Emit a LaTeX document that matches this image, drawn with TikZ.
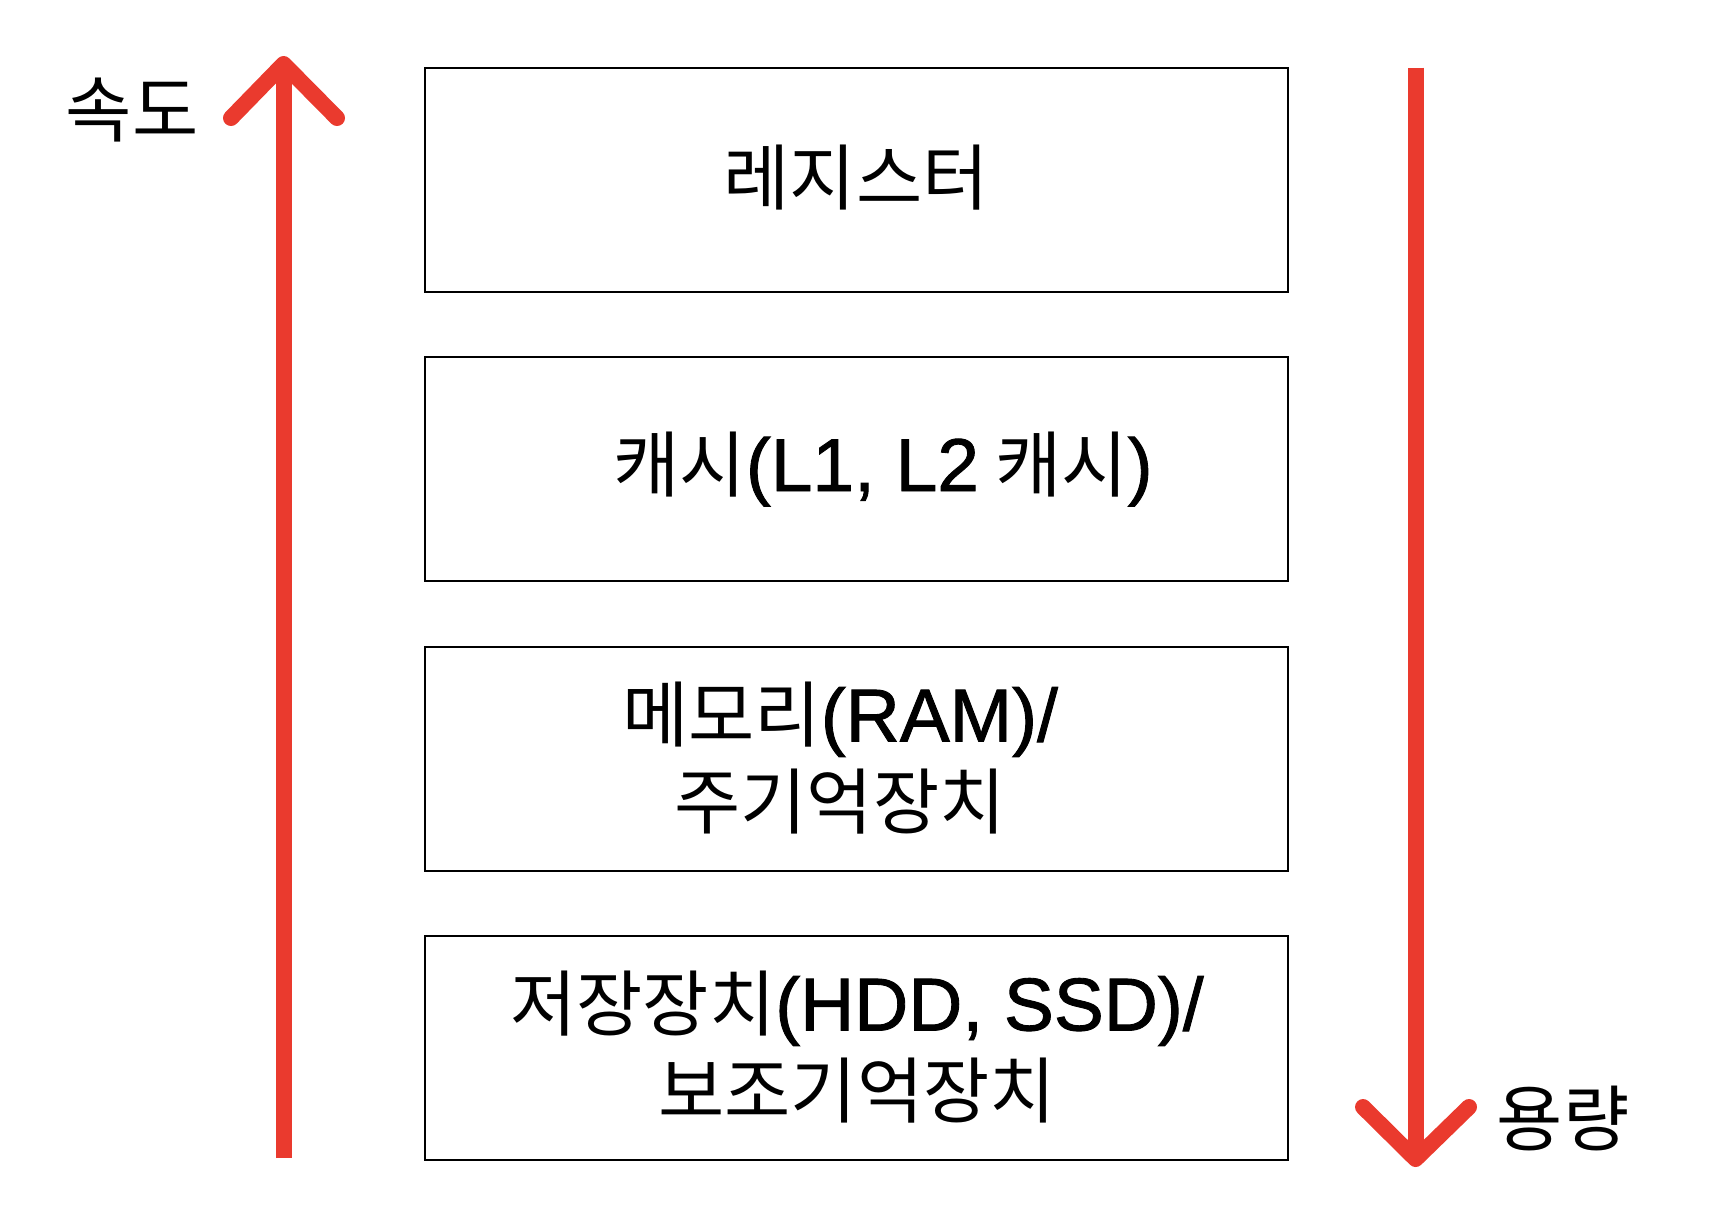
\documentclass[tikz,border=0pt]{standalone}
\usepackage{fontspec}
\setmainfont{Noto Sans CJK KR}
\newfontfamily\latfont[Scale=1.04,FakeBold=1.2]{Liberation Sans}
\newcommand{\lt}[1]{{\latfont #1}}
\definecolor{arrowred}{RGB}{234,58,46}
\begin{document}
\begin{tikzpicture}[x=1pt,y=-1pt,
  layerbox/.style={draw=black, line width=2.2pt, minimum width=863pt, minimum height=224.5pt, inner sep=0pt, anchor=center},
  lbl/.style={font=\fontsize{72}{87}\selectfont, align=center, inner sep=0pt, anchor=center},
  shaft/.style={draw=arrowred, line width=16pt, line cap=butt},
  head/.style={draw=arrowred, line width=16pt, line cap=round, line join=round}]
\useasboundingbox (0,0) rectangle (1710,1226);
% boxes
\node[layerbox] (b1) at (856.5,180) {};
\node[layerbox] (b2) at (856.5,469) {};
\node[layerbox] (b3) at (856.5,759) {};
\node[layerbox] (b4) at (856.5,1048) {};
% labels
\node[lbl] (t1) at (856,178) {레지스터};
\node[lbl] (t2) at (883,469) {캐시\lt{(L1, L2} 캐시\lt{)}};
\node[lbl] (t3) at (840,758) {메모리\lt{(RAM)/}\\주기억장치};
\node[lbl] (t4) at (857,1047) {저장장치\lt{(HDD, SSD)/}\\보조기억장치};
% speed arrow
\coordinate (sb) at (283.6,1158);
\coordinate (st) at (283.6,64);
\coordinate (sl) at (231,118);
\coordinate (sr) at (337,118);
\draw[shaft] (sb) -- (st);
\draw[head] (sl) -- (st) -- (sr);
\node[lbl] (speed) at (132,110) {속도};
% capacity arrow
\coordinate (ct) at (1415.6,67.6);
\coordinate (cb) at (1415.6,1159);
\coordinate (cl) at (1363,1107);
\coordinate (cr) at (1469,1107);
\draw[shaft] (ct) -- (cb);
\draw[head] (cl) -- (cb) -- (cr);
\node[lbl] (cap) at (1563,1118) {용량};
\end{tikzpicture}
\end{document}
